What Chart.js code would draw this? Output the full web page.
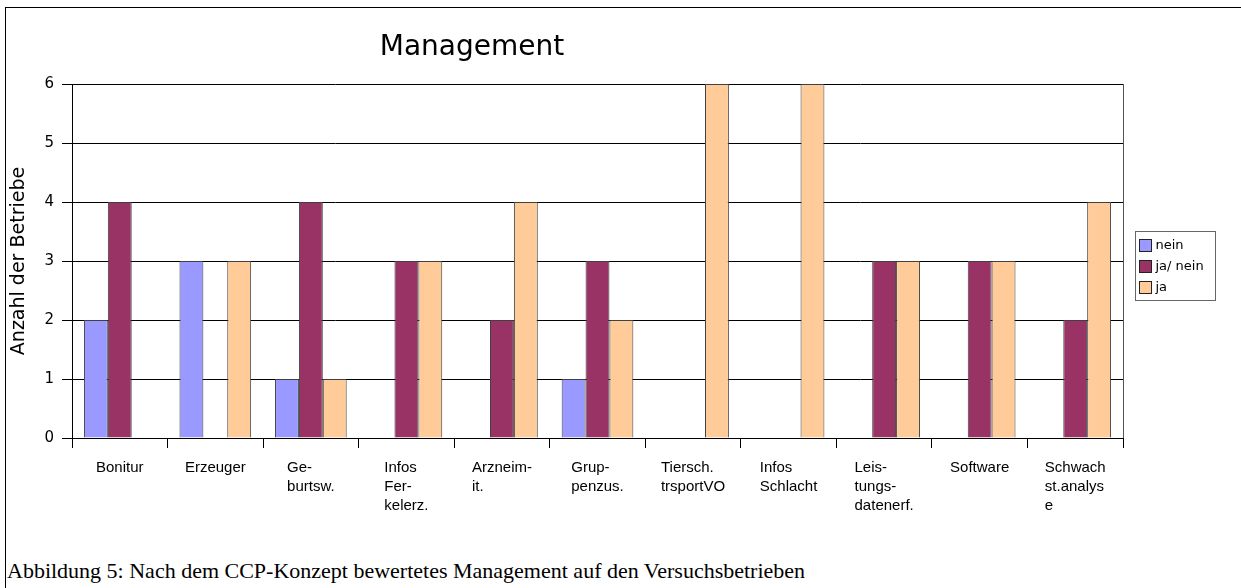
<!DOCTYPE html>
<html><head><meta charset="utf-8">
<script src="https://cdn.jsdelivr.net/npm/chart.js@4.4.1/dist/chart.umd.min.js"></script>
<style>
html,body{margin:0;padding:0;background:#fff;width:1241px;height:588px;overflow:hidden;}
#frame{position:absolute;left:5px;top:7px;width:1300px;height:700px;border:1px solid #000;}
#wrap{position:absolute;left:0;top:0;width:1241px;height:540px;}
#caption{position:absolute;left:7px;top:557px;font-family:'Liberation Serif','Times New Roman',serif;font-size:22px;line-height:27px;white-space:nowrap;color:#000;}
</style></head><body>
<div id="frame"></div>
<div id="wrap"><canvas id="c" width="1241" height="540"></canvas></div>
<div id="caption">Abbildung 5: Nach dem CCP-Konzept bewertetes Management auf den Versuchsbetrieben</div>
<script>
const chartTitle = 'Management';
const yAxisTitle = 'Anzahl der Betriebe';
const categories = [
  ['Bonitur'], ['Erzeuger'], ['Ge-', 'burtsw.'], ['Infos', 'Fer-', 'kelerz.'],
  ['Arzneim-', 'it.'], ['Grup-', 'penzus.'], ['Tiersch.', 'trsportVO'],
  ['Infos', 'Schlacht'], ['Leis-', 'tungs-', 'datenerf.'], ['Software'],
  ['Schwach', 'st.analys', 'e']
];
const seriesNames = ['nein', 'ja/ nein', 'ja'];
const neinValues   = [2, 3, 1, 0, 0, 1, 0, 0, 0, 0, 0];
const jaNeinValues = [4, 0, 4, 3, 2, 3, 0, 0, 3, 3, 2];
const jaValues     = [0, 3, 1, 3, 4, 2, 6, 6, 3, 3, 4];
const yMin = 0, yMax = 6, yStep = 1;
const seriesColors = ['#9999FF', '#993366', '#FFCC99'];

const bw = ctx => (ctx.raw ? 1 : 0);

const customDraw = {
  id: 'customDraw',
  afterDraw(chart) {
    const ctx = chart.ctx;
    const ca = chart.chartArea;
    const xs = chart.scales.x;
    ctx.save();
    ctx.strokeStyle = '#555';
    ctx.lineWidth = 1;
    ctx.beginPath();
    ctx.moveTo(Math.round(ca.right) + 0.5, ca.top);
    ctx.lineTo(Math.round(ca.right) + 0.5, ca.bottom);
    ctx.stroke();
    ctx.fillStyle = '#000';
    ctx.font = '28px "DejaVu Sans"';
    ctx.textAlign = 'center';
    ctx.textBaseline = 'alphabetic';
    ctx.fillText(chartTitle, 472, 55);
    ctx.font = '15px "Liberation Sans"';
    ctx.textAlign = 'left';
    categories.forEach((lines, i) => {
      const cx = xs.getPixelForValue(i);
      const w = Math.max(...lines.map(l => ctx.measureText(l).width));
      lines.forEach((l, j) => ctx.fillText(l, cx - w / 2, ca.bottom + 34 + j * 19));
    });
    const lx = Math.round(ca.right) + 12.5, ly = 231.5, lw = 80, lh = 69;
    ctx.fillStyle = '#fff';
    ctx.fillRect(lx, ly, lw, lh);
    ctx.strokeStyle = '#666';
    ctx.strokeRect(lx, ly, lw, lh);
    ctx.font = '13px "DejaVu Sans"';
    ctx.textBaseline = 'middle';
    chart.data.datasets.forEach((ds, k) => {
      const y = ly + 14 + k * 21;
      ctx.fillStyle = ds.backgroundColor;
      ctx.fillRect(lx + 4, y - 6, 12, 12);
      ctx.strokeStyle = '#222';
      ctx.strokeRect(lx + 4, y - 6, 12, 12);
      ctx.fillStyle = '#000';
      ctx.fillText(ds.label, lx + 20, y);
    });
    ctx.restore();
  }
};

new Chart(document.getElementById('c'), {
  type: 'bar',
  data: {
    labels: categories,
    datasets: [
      { label: seriesNames[0], data: neinValues, backgroundColor: seriesColors[0] },
      { label: seriesNames[1], data: jaNeinValues, backgroundColor: seriesColors[1] },
      { label: seriesNames[2], data: jaValues, backgroundColor: seriesColors[2] }
    ]
  },
  options: {
    responsive: false,
    animation: false,
    layout: { padding: { top: 84, right: 118, left: 0, bottom: 0 } },
    datasets: { bar: { borderColor: '#404040', borderWidth: bw, borderSkipped: 'bottom', categoryPercentage: 0.75, barPercentage: 1 } },
    plugins: { legend: { display: false }, title: { display: false }, tooltip: { enabled: false } },
    scales: {
      x: {
        offset: true,
        grid: { offset: true, drawOnChartArea: false, drawTicks: true, tickLength: 10, color: '#000', lineWidth: 1 },
        border: { display: true, color: '#000' },
        ticks: { display: false },
        afterFit: s => { s.height = 102; }
      },
      y: {
        min: yMin, max: yMax,
        ticks: { stepSize: yStep, color: '#000', font: { family: 'DejaVu Sans', size: 15 }, padding: 8 },
        grid: { color: '#000', lineWidth: 1, tickLength: 10 },
        border: { display: true, color: '#000' },
        title: { display: true, text: yAxisTitle, color: '#000', font: { family: 'DejaVu Sans', size: 19 }, padding: { top: 8, bottom: 0 } },
        afterFit: s => { s.width = 72; }
      }
    }
  },
  plugins: [customDraw]
});
</script>
</body></html>
